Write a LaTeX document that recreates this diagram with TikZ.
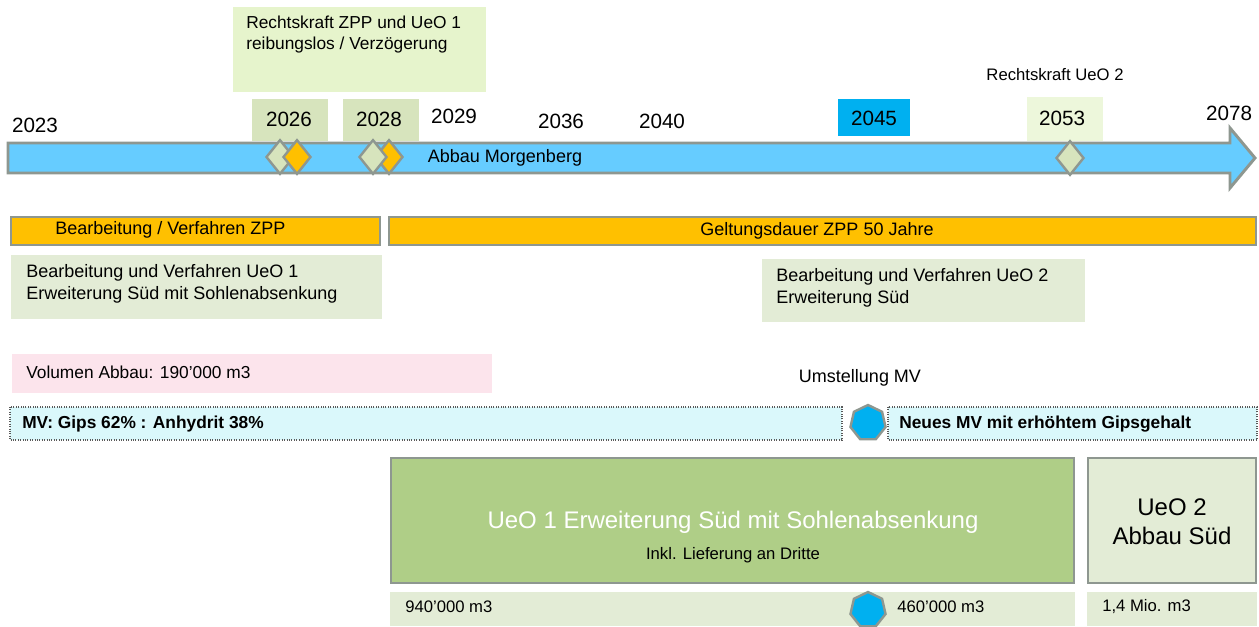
\documentclass[tikz,border=0pt]{standalone}
\usepackage{fontspec}
\setmainfont{Liberation Sans}
\usetikzlibrary{shapes.geometric}

\definecolor{barblue}{HTML}{66CCFF}
\definecolor{rim}{HTML}{8E9790}
\definecolor{amber}{HTML}{FFC000}
\definecolor{sprout}{HTML}{E6F4CC}
\definecolor{yeargreen}{HTML}{D7E4BD}
\definecolor{sage}{HTML}{E3ECD6}
\definecolor{blush}{HTML}{FCE4EC}
\definecolor{frost}{HTML}{DAF8FB}
\definecolor{cyanblue}{HTML}{00B0F0}
\definecolor{leaf}{HTML}{AFCE87}

\tikzset{
  yr/.style={font=\fontsize{15.5}{18}\selectfont, inner sep=0pt},
  txt/.style={font=\fontsize{13.5}{16}\selectfont, inner sep=0pt, align=left},
  boldtxt/.style={font=\fontsize{13}{16}\selectfont\bfseries, inner sep=0pt},
  big/.style={font=\fontsize{18}{21.75}\selectfont, inner sep=0pt, align=center},
  rimline/.style={draw=rim, line width=2.2pt},
  gem/.style={diamond, draw=rim, line width=1.8pt, minimum width=21pt, minimum height=26pt, inner sep=0pt},
  hepta/.style={regular polygon, regular polygon sides=7, draw=rim, line width=1.8pt, fill=cyanblue, minimum size=27pt, inner sep=0pt}
}

\begin{document}
\begin{tikzpicture}[x=0.75pt, y=-0.75pt]
  \useasboundingbox (0,0) rectangle (1259,626);
  % milestone notes and year tags
  \fill[sprout] (233,7) rectangle (486,92);
  \node[txt, anchor=west, font=\fontsize{13}{15.75}\selectfont] (rkzpp) at (246,34.5) {Rechtskraft ZPP und  UeO 1\\reibungslos  / Verzögerung};
  \node[txt, font=\fontsize{12.5}{15}\selectfont] (rkueo) at (1055,75) {Rechtskraft UeO 2};
  \fill[yeargreen] (252,99) rectangle (328,141);
  \fill[yeargreen] (343,99) rectangle (419,141);
  \fill[cyanblue] (838,99) rectangle (910,136);
  \fill[sprout!70!white] (1027,97) rectangle (1103,141);
  \foreach \yy/\px/\py in {2023/35/125, 2026/289/119, 2028/379/119, 2029/454/116,
                            2036/561/121, 2040/662/121, 2045/874/118, 2053/1062/118, 2078/1229/113}
    \node[yr] (y\yy) at (\px,\py) {\yy};
  % timeline arrow
  \draw[rimline, fill=barblue] (8,143) -- (1230,143) -- (1230,128) -- (1255,158)
    -- (1230,188) -- (1230,173) -- (8,173) -- cycle;
  \node[txt] (abbau) at (505,158) {Abbau  Morgenberg};
  % milestones on the arrow
  \node[gem, fill=yeargreen] (m26a) at (280,157) {};
  \node[gem, fill=amber] (m26b) at (297,157) {};
  \node[gem, fill=amber] (m28b) at (389,157) {};
  \node[gem, fill=yeargreen] (m28a) at (373,157) {};
  \node[gem, fill=yeargreen] (m53) at (1070,158) {};
  % ZPP bars
  \draw[rimline, fill=amber] (11,217) rectangle (380,245);
  \node[txt, anchor=west] (zpp) at (55,230) {Bearbeitung  / Verfahren  ZPP};
  \draw[rimline, fill=amber] (389,217) rectangle (1256,245);
  \node[txt] (gelt) at (817,231) {Geltungsdauer ZPP 50 Jahre};
  % procedures
  \fill[sage] (11,255) rectangle (382,319);
  \node[txt, anchor=west, font=\fontsize{13.5}{16.5}\selectfont] (proc1) at (26,284) {Bearbeitung  und  Verfahren   UeO 1\\Erweiterung  Süd mit Sohlenabsenkung};
  \fill[sage] (762,259) rectangle (1085,322);
  \node[txt, anchor=west, font=\fontsize{13.5}{16.5}\selectfont] (proc2) at (776,288) {Bearbeitung  und  Verfahren   UeO 2\\Erweiterung  Süd};
  % volume
  \fill[blush] (12,354) rectangle (492,393);
  \node[txt, anchor=west, font=\fontsize{13}{16}\selectfont] (vol) at (26,372) {Volumen  Abbau: 190’000 m3};
  \node[txt] (umst) at (860,378) {Umstellung  MV};
  % MV bars
  \draw[densely dotted, line width=0.8pt, draw=black!65, fill=frost] (10,407) rectangle (842,440);
  \node[boldtxt, anchor=west] (mvold) at (22,424) {MV: Gips 62\% : Anhydrit  38\%};
  \draw[densely dotted, line width=0.8pt, draw=black!65, fill=frost] (888,407) rectangle (1257,440);
  \node[boldtxt, anchor=west] (mvnew) at (899,424) {Neues MV mit erhöhtem Gipsgehalt};
  \node[hepta] (swap1) at (868,423) {};
  % extraction stages
  \draw[rimline, fill=leaf] (391,458) rectangle (1074,583);
  \node[big, text=white] (ueo1) at (733,522) {UeO 1 Erweiterung Süd mit Sohlenabsenkung};
  \node[txt, font=\fontsize{12.5}{15}\selectfont] (inkl) at (733,555) {Inkl. Lieferung an Dritte};
  \draw[rimline, fill=sage] (1088,458) rectangle (1256,583);
  \node[big] (ueo2) at (1172,522) {UeO 2\\Abbau Süd};
  % quantities
  \fill[sage] (390,592) rectangle (1075,626);
  \fill[sage] (1087,592) rectangle (1257,626);
  \node[txt, anchor=west, font=\fontsize{12.5}{15}\selectfont] (q1) at (405,607) {940’000 m3};
  \node[txt, anchor=west, font=\fontsize{12.5}{15}\selectfont] (q2) at (897,607) {460’000 m3};
  \node[txt, anchor=west, font=\fontsize{12.5}{15}\selectfont] (q3) at (1102,607) {1,4 Mio. m3};
  \node[hepta] (swap2) at (868,610) {};
\end{tikzpicture}
\end{document}
